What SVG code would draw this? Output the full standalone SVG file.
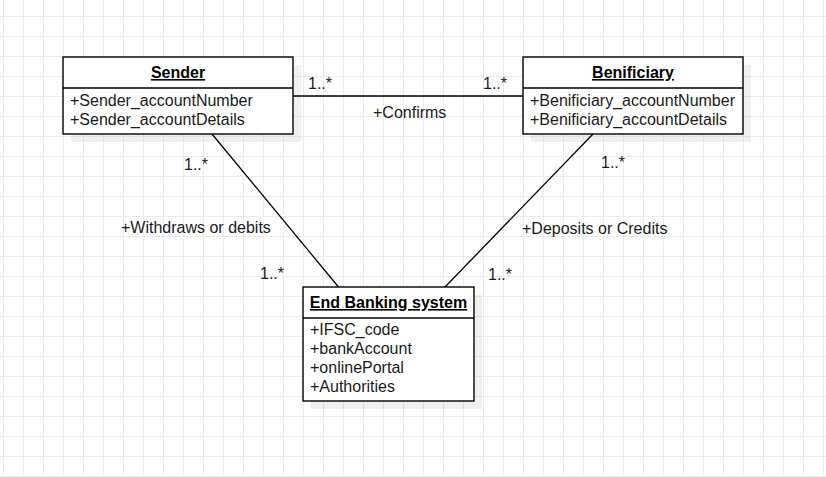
<svg xmlns="http://www.w3.org/2000/svg" width="826" height="477" viewBox="0 0 826 477">
  <defs>
    <pattern id="grid" x="3" y="16" width="20" height="20" patternUnits="userSpaceOnUse">
      <path d="M0.5 0 V20 M0 0.5 H20" fill="none" stroke="#ececec" stroke-width="1"/>
    </pattern>
    <style>
      .box { fill: #ffffff; stroke: #000000; stroke-width: 1.4; }
      .shadow { fill: #000000; fill-opacity: 0.06; stroke: none; }
      .div { stroke: #000000; stroke-width: 1.4; }
      .hdr { font-family: "Liberation Sans", Arial, sans-serif; font-size: 16px; font-weight: bold; text-decoration: underline; fill: #000; text-anchor: middle; }
      .attr { font-family: "Liberation Sans", Arial, sans-serif; font-size: 16px; fill: #1a1a1a; }
      .lbl { font-family: "Liberation Sans", Arial, sans-serif; font-size: 16px; fill: #1a1a1a; }
      .edge { fill: none; stroke: #000000; stroke-width: 1.3; }
    </style>
  </defs>
  <rect width="826" height="477" fill="#ffffff"/>
  <rect width="826" height="477" fill="url(#grid)"/>

  <g id="connectors">
    <line class="edge" x1="293" y1="96" x2="523" y2="96"/>
    <line class="edge" x1="212" y1="134" x2="338.5" y2="287"/>
    <line class="edge" x1="593" y1="134" x2="445" y2="287"/>
    <text class="lbl" x="308" y="89">1..*</text>
    <text class="lbl" x="483" y="89">1..*</text>
    <text class="lbl" x="373" y="118">+Confirms</text>
    <text class="lbl" x="184" y="170">1..*</text>
    <text class="lbl" x="121" y="233">+Withdraws or debits</text>
    <text class="lbl" x="260" y="279">1..*</text>
    <text class="lbl" x="601" y="168">1..*</text>
    <text class="lbl" x="522" y="234">+Deposits or Credits</text>
    <text class="lbl" x="488" y="280">1..*</text>
  </g>

  <g id="sender">
    <rect class="shadow" x="71" y="65" width="230" height="77"/>
    <rect class="box" x="63" y="57" width="230" height="77"/>
    <line class="div" x1="63" y1="88" x2="293" y2="88"/>
    <text class="hdr" x="178" y="78">Sender</text>
    <text class="attr" x="70" y="106">+Sender_accountNumber</text>
    <text class="attr" x="70" y="125">+Sender_accountDetails</text>
  </g>

  <g id="beneficiary">
    <rect class="shadow" x="531" y="65" width="220" height="77"/>
    <rect class="box" x="523" y="57" width="220" height="77"/>
    <line class="div" x1="523" y1="88" x2="743" y2="88"/>
    <text class="hdr" x="633" y="78">Benificiary</text>
    <text class="attr" x="530" y="106">+Benificiary_accountNumber</text>
    <text class="attr" x="530" y="125">+Benificiary_accountDetails</text>
  </g>

  <g id="end-banking-system">
    <rect class="shadow" x="311" y="295" width="171" height="114"/>
    <rect class="box" x="303" y="287" width="171" height="114"/>
    <line class="div" x1="303" y1="318" x2="474" y2="318"/>
    <text class="hdr" x="388.5" y="308">End Banking system</text>
    <text class="attr" x="310" y="335">+IFSC_code</text>
    <text class="attr" x="310" y="354">+bankAccount</text>
    <text class="attr" x="310" y="373">+onlinePortal</text>
    <text class="attr" x="310" y="392">+Authorities</text>
  </g>
</svg>
